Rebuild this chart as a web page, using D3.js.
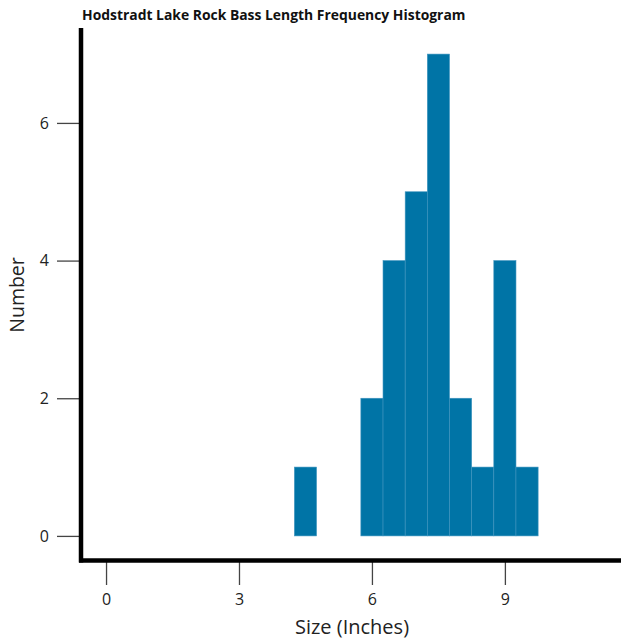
<!DOCTYPE html>
<html><head><meta charset="utf-8">
<script src="https://cdn.jsdelivr.net/npm/d3@7"></script>
<style>body{margin:0;background:#fff}svg{display:block}</style>
</head><body>
<svg id="c" width="621" height="640"></svg>
<script>
const binStart = [4.25, 5.75, 6.25, 6.75, 7.25, 7.75, 8.25, 8.75, 9.25];
const binEnd   = [4.75, 6.25, 6.75, 7.25, 7.75, 8.25, 8.75, 9.25, 9.75];
const counts   = [1, 2, 4, 5, 7, 2, 1, 4, 1];
const xTicks = [0, 3, 6, 9];
const yTicks = [0, 2, 4, 6];
const title = "Hodstradt Lake Rock Bass Length Frequency Histogram";
const xTitle = "Size (Inches)";
const yTitle = "Number";

const svg = d3.select("#c");
const font = "'Open Sans', sans-serif";
const x = d3.scaleLinear().domain([-0.565, 11.62]).range([81, 621]);
const y = d3.scaleLinear().domain([-0.35, 7.35]).range([560, 30]);

svg.selectAll("rect.bar").data(counts).enter().append("rect")
  .attr("class","bar")
  .attr("x",(d,i)=>x(binStart[i]))
  .attr("width",(d,i)=>x(binEnd[i])-x(binStart[i]))
  .attr("y",d=>y(d))
  .attr("height",d=>y(0)-y(d))
  .attr("fill","#0074a6")
  .attr("stroke","#3f94bf")
  .attr("stroke-width",0.6);

// axes
const xa = svg.append("g").attr("transform","translate(0,560)")
  .call(d3.axisBottom(x).tickValues(xTicks).tickSize(25).tickPadding(9).tickFormat(d3.format("d")));
const ya = svg.append("g").attr("transform","translate(81,0)")
  .call(d3.axisLeft(y).tickValues(yTicks).tickSize(24).tickPadding(8).tickFormat(d3.format("d")));
[xa, ya].forEach(g=>{
  g.select(".domain").remove();
  g.selectAll(".tick line").attr("stroke","#444").attr("stroke-width",1.3);
  g.selectAll(".tick text").attr("fill","#222").style("font-family",font).style("font-size","16px");
});
svg.append("line").attr("x1",81).attr("x2",81).attr("y1",28).attr("y2",562.5).attr("stroke","#000").attr("stroke-width",4.5);
svg.append("line").attr("x1",79).attr("x2",621).attr("y1",560.5).attr("y2",560.5).attr("stroke","#000").attr("stroke-width",4.5);

svg.append("text").attr("x",82).attr("y",20).text(title)
  .style("font-family",font).style("font-weight","bold").style("font-size","13.9px").attr("fill","#111");
svg.append("text").attr("x",352).attr("y",634).attr("text-anchor","middle").text(xTitle)
  .style("font-family",font).style("font-size","20px").attr("fill","#222");
svg.append("text").attr("transform","translate(24,295) rotate(-90)").attr("text-anchor","middle").text(yTitle)
  .style("font-family",font).style("font-size","19.5px").attr("fill","#222");
</script>
</body></html>
